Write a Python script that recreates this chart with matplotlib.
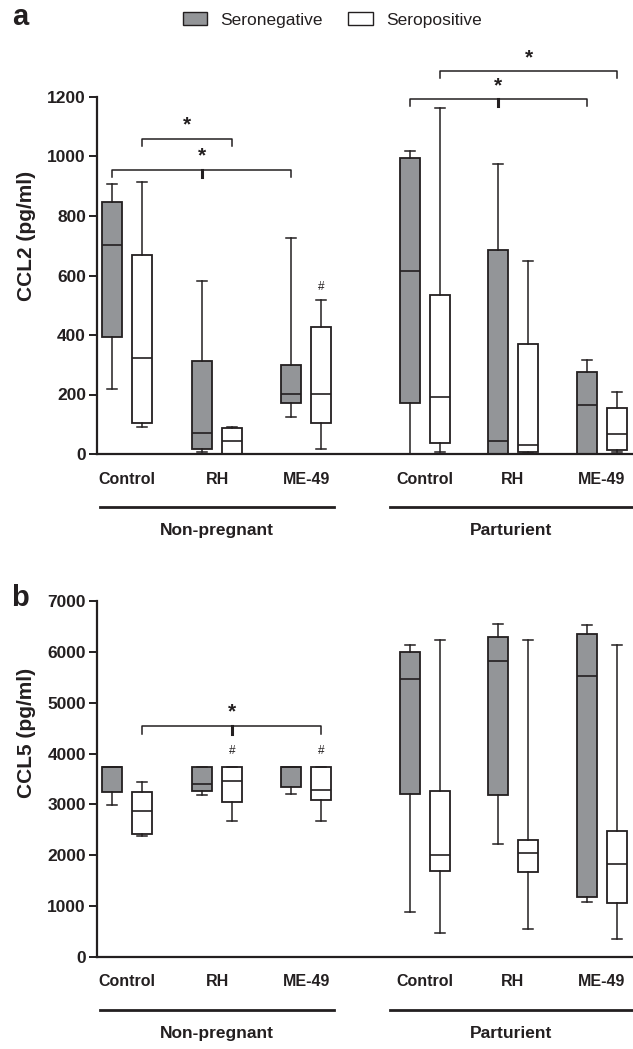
import matplotlib
matplotlib.use("Agg")
import matplotlib.pyplot as plt
from matplotlib.patches import Patch

plt.rcParams['font.family'] = ['Liberation Sans', 'DejaVu Sans']

# ---------------- data ----------------
groups = ["Control", "RH", "ME-49", "Control", "RH", "ME-49"]
cohorts = ["Non-pregnant", "Parturient"]
series = ["Seronegative", "Seropositive"]

# (min, q1, median, q3, max) per group, panel a: CCL2 (pg/ml)
ccl2_seroneg = [(218, 393, 702, 847, 907), (7, 17, 71, 313, 582), (124, 172, 202, 299, 726),
                (0, 171, 615, 994, 1018), (0, 0, 44, 686, 975), (0, 0, 165, 276, 316)]
ccl2_seropos = [(91, 104, 323, 669, 914), (0, 0, 44, 88, 91), (17, 104, 202, 427, 518),
                (7, 37, 192, 535, 1162), (3, 7, 30, 370, 649), (7, 13, 67, 155, 208)]
# panel b: CCL5 (pg/ml)
ccl5_seroneg = [(2988, 3244, 3736, 3736, 3736), (3185, 3264, 3402, 3736, 3736), (3205, 3342, 3736, 3736, 3736),
                (885, 3205, 5466, 5997, 6129), (2222, 3185, 5820, 6292, 6547), (1082, 1180, 5525, 6350, 6534)]
ccl5_seropos = [(2379, 2418, 2870, 3244, 3441), (2674, 3047, 3460, 3736, 3736), (2674, 3087, 3283, 3736, 3736),
                (472, 1691, 2006, 3264, 6233), (550, 1671, 2045, 2300, 6233), (354, 1062, 1829, 2477, 6129)]

ccl2_ticks = [0, 200, 400, 600, 800, 1000, 1200]
ccl5_ticks = [0, 1000, 2000, 3000, 4000, 5000, 6000, 7000]

# significance brackets: (series index start, group start, series index end, group end, y, mid group or None)
ccl2_brackets = [((1, 0), (1, 1), 1059, None), ((0, 0), (0, 2), 955, (0, 1)),
                 ((1, 3), (1, 5), 1287, None), ((0, 3), (0, 5), 1193, (0, 4))]
ccl5_brackets = [((1, 0), (1, 2), 4542, (1, 1))]
# '#' marks: (series, group)
ccl2_hash = [(1, 2)]
ccl5_hash = [(1, 1), (1, 2)]

# ---------------- style ----------------
GREY = "#939598"
DARK = "#231f20"
group_x = [0, 1.015, 2.015, 3.35, 4.335, 5.335]
OFF = 0.17
BW = 0.225
XLIM = (-0.337, 5.685)

W, H = 633, 1049
fig = plt.figure(figsize=(W / 100, H / 100), dpi=100)


def axes_from_px(x0, y_top, x1, y_bot):
    return fig.add_axes([x0 / W, 1 - y_bot / H, (x1 - x0) / W, (y_bot - y_top) / H])


def pos(s, g):
    return group_x[g] + (-OFF if s == 0 else OFF)


def panel(ax, neg, posv, ticks, brackets, hashes, ylabel, ylabel_y, letter, letter_y, hash_off, br_drop):
    for s, data in enumerate([neg, posv]):
        stats = [dict(whislo=d[0], q1=d[1], med=d[2], q3=d[3], whishi=d[4], fliers=[]) for d in data]
        ax.bxp(stats, positions=[pos(s, g) for g in range(len(data))], widths=BW,
               patch_artist=True, showfliers=False, capwidths=BW * 0.5,
               boxprops=dict(facecolor=GREY if s == 0 else "white", edgecolor=DARK, linewidth=1.3),
               medianprops=dict(color=DARK, linewidth=1.2),
               whiskerprops=dict(color=DARK, linewidth=1.1),
               capprops=dict(color=DARK, linewidth=1.1))
    ax.set_xlim(*XLIM)
    ax.set_ylim(ticks[0], ticks[-1])
    ax.set_yticks(ticks)
    ax.set_yticklabels([str(t) for t in ticks], fontsize=12.5, fontweight='bold', color=DARK)
    ax.set_xticks([])
    for sp in ["top", "right"]:
        ax.spines[sp].set_visible(False)
    for sp in ["left", "bottom"]:
        ax.spines[sp].set_linewidth(1.6)
        ax.spines[sp].set_color(DARK)
    ax.tick_params(axis='y', length=6, width=1.4, color=DARK, pad=2)
    ax.patch.set_alpha(0)

    # brackets
    for (a, b, y, mid) in brackets:
        x1, x2 = pos(*a), pos(*b)
        ax.plot([x1, x1, x2, x2], [y - br_drop, y, y, y - br_drop], color=DARK, lw=1.1, clip_on=False)
        xm = pos(*mid) if mid is not None else (x1 + x2) / 2
        if mid is not None:
            ax.plot([xm, xm], [y, y - br_drop], color=DARK, lw=2.2, clip_on=False)
        ax.annotate("*", xy=(xm, y), xytext=(0, 3), textcoords='offset points',
                    ha='center', va='bottom', fontsize=15, fontweight='bold', color=DARK,
                    annotation_clip=False)
    for (s, g) in hashes:
        d = (neg, posv)[s][g]
        ax.annotate("#", xy=(pos(s, g), d[4]), xytext=(0, hash_off), textcoords='offset points',
                    ha='center', va='bottom', fontsize=8.5, color=DARK, annotation_clip=False)

    # category labels
    for g, name in enumerate(groups):
        ax.annotate(name, xy=(group_x[g], 0), xycoords=('data', 'axes fraction'),
                    xytext=(0, -18), textcoords='offset points', ha='center', va='center',
                    fontsize=11.5, fontweight='bold', color=DARK, annotation_clip=False)
    # cohort lines and labels
    spans = [(group_x[0] - 0.3, group_x[2] + 0.31), (group_x[3] - 0.4, XLIM[1])]
    for (xa, xb), name in zip(spans, cohorts):
        ax.annotate("", xy=(xa, 0), xycoords=('data', 'axes fraction'),
                    xytext=(xb, 0), textcoords=('data', 'axes fraction'), annotation_clip=False)
        line_y = -53 / (ax.get_position().height * H)
        ax.plot([xa, xb], [line_y, line_y], transform=ax.get_xaxis_transform(),
                color=DARK, lw=2.0, clip_on=False)
        ax.annotate(name, xy=((xa + min(xb, group_x[5] + 0.4)) / 2, 0), xycoords=('data', 'axes fraction'),
                    xytext=(0, -55), textcoords='offset points', ha='center', va='center',
                    fontsize=12.5, fontweight='bold', color=DARK, annotation_clip=False)

    fig.text(26 / W, 1 - ylabel_y / H, ylabel, rotation=90, ha='center', va='center',
             fontsize=15, fontweight='bold', color=DARK)
    fig.text(20 / W, 1 - letter_y / H, letter, ha='center', va='center',
             fontsize=21, fontweight='bold', color=DARK)


ax_a = axes_from_px(97, 97, W, 454)
panel(ax_a, ccl2_seroneg, ccl2_seropos, ccl2_ticks, ccl2_brackets, ccl2_hash,
      "CCL2 (pg/ml)", 236, "a", 17, 5, 24)

ax_b = axes_from_px(97, 601, W, 957)
panel(ax_b, ccl5_seroneg, ccl5_seropos, ccl5_ticks, ccl5_brackets, ccl5_hash,
      "CCL5 (pg/ml)", 733, "b", 598, 7, 160)

handles = [Patch(facecolor=GREY, edgecolor=DARK, linewidth=1.0),
           Patch(facecolor="white", edgecolor=DARK, linewidth=1.0)]
fig.legend(handles, series, loc='center', bbox_to_anchor=(332 / W, 1 - 20 / H), ncol=2,
           frameon=False, fontsize=12.5, handlelength=1.4, handleheight=0.7,
           handletextpad=0.75, columnspacing=1.5, labelcolor=DARK)

fig.savefig("out.png", dpi=100)
